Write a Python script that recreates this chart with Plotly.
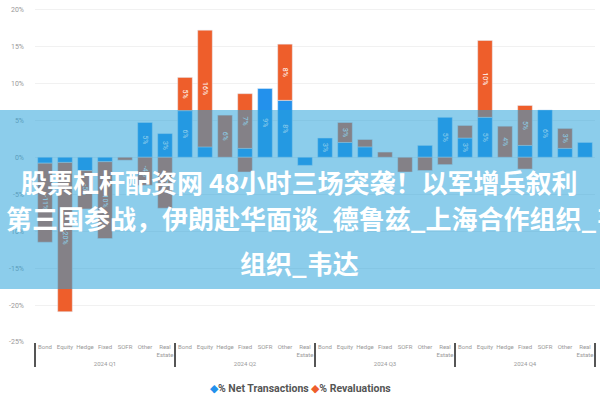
import plotly.graph_objects as go

quarters = ["2024 Q1", "2024 Q2", "2024 Q3", "2024 Q4"]
categories = ["Bond", "Equity", "Hedge", "Fixed", "SOFR", "Other", "Real<br>Estate"]

# % Net Transactions (blue)
net = [-0.8, -0.7, -1.8, -0.6, None, 4.7, 3.2,
       6.3, 1.4, None, 1.2, 9.3, 7.7, -1.1,
       2.6, 2.0, 1.4, None, None, 1.6, 5.4,
       2.6, 5.4, None, 1.6, 6.4, 1.2, 2.0]
# % Revaluations (orange)
reval = [-10.7, -20.2, -5.2, -10.4, -0.4, -3.8, -6.9,
         4.5, 15.8, 5.7, 7.4, None, 7.6, None,
         None, 2.7, 1.0, 0.7, -2.0, -1.8, -1.0,
         1.7, 10.4, 4.2, 5.4, None, 2.7, None]
# negative part of revaluations where the same bar also has a positive part
reval_neg = [None, None, None, None, None, None, None,
             None, None, None, -2.0, None, None, None,
             None, None, None, None, None, None, None,
             None, None, None, -1.6, None, None, None]

yticks = [20, 15, 10, 5, 0, -5, -10, -15, -20, -25]

series_names = ["% Net Transactions", "% Revaluations"]

banner_lines = [
    "股票杠杆配资网 48小时三场突袭！以军增兵叙利",
    "第三国参战，伊朗赴华面谈_德鲁兹_上海合作组织_韦达",
    "组织_韦达",
]

xq = [q for q in quarters for _ in categories]
xc = [c for _ in quarters for c in categories]

BLUE = "#2391EC"
ORANGE = "#EE5E2B"

W, H = 600, 400
ML, MR, MT, MB = 35, 5, 5, 58
PW, PH = W - ML - MR, H - MT - MB


def px(x):
    return (x - ML) / PW


def py(y):
    return (H - MB - y) / PH


fig = go.Figure()
common = dict(texttemplate="%{y:.0f}%", textposition="inside",
              insidetextanchor="middle",
              textfont=dict(size=7, color="white", family="Roboto"))
fig.add_trace(go.Bar(x=[xq, xc], y=net, name=series_names[0],
                     marker_color=BLUE, **common))
fig.add_trace(go.Bar(x=[xq, xc], y=reval, name=series_names[1],
                     marker_color=ORANGE, **common))
fig.add_trace(go.Bar(x=[xq, xc], y=reval_neg, name=series_names[1],
                     marker_color=ORANGE, **common))

fig.update_layout(
    width=W, height=H,
    margin=dict(l=ML, r=MR, t=MT, b=MB, autoexpand=False),
    barmode="relative",
    bargap=0.27,
    plot_bgcolor="white",
    paper_bgcolor="white",
    font=dict(family="Roboto", color="#888"),
    uniformtext=dict(minsize=7, mode="hide"),
    showlegend=False,
    xaxis=dict(type="multicategory", showdividers=True, dividercolor="#555",
               dividerwidth=2, tickfont=dict(size=6, color="#999"),
               tickangle=0, automargin=False,
               showgrid=False, showline=False, ticks=""),
    yaxis=dict(range=[-25, 20.6], tickvals=yticks,
               ticktext=[f"{v}%" for v in yticks],
               tickfont=dict(size=7, color="#999"), automargin=False,
               gridcolor="#f1f1f1", zeroline=False, showline=False,
               ticklabelstandoff=10),
)

# legend drawn as a single centred line of text
legend_text = (f"<span style='color:{BLUE}'>◆</span><b>{series_names[0]}</b> "
               f"<span style='color:{ORANGE}'>◆</span><b>{series_names[1]}</b>")
fig.add_annotation(text=legend_text, xref="paper", yref="paper",
                   x=px(300), y=py(388), xanchor="center", yanchor="middle",
                   showarrow=False, font=dict(size=10.5, color="#555",
                                              family="Roboto"))

# overlay banner
fig.add_shape(type="rect", xref="paper", yref="paper",
              x0=px(0), x1=px(W), y0=py(289), y1=py(110),
              fillcolor="rgba(38,160,217,0.53)", line_width=0, layer="above")

ann_font = dict(size=26, color="white", family="Noto Sans CJK SC", weight="bold")
fig.add_annotation(text=banner_lines[0], xref="paper", yref="paper",
                   x=px(299), y=py(181), xanchor="center", yanchor="middle",
                   showarrow=False, font=ann_font)
fig.add_annotation(text=banner_lines[1], xref="paper", yref="paper",
                   x=px(4), y=py(218), xanchor="left", yanchor="middle",
                   showarrow=False, font=ann_font)
fig.add_annotation(text=banner_lines[2], xref="paper", yref="paper",
                   x=px(299), y=py(262), xanchor="center", yanchor="middle",
                   showarrow=False, font=ann_font)

fig.write_html("out.html",
               config={"displayModeBar": False},
               post_script="document.body.style.margin='0';"
                           "document.body.style.overflow='hidden';")
